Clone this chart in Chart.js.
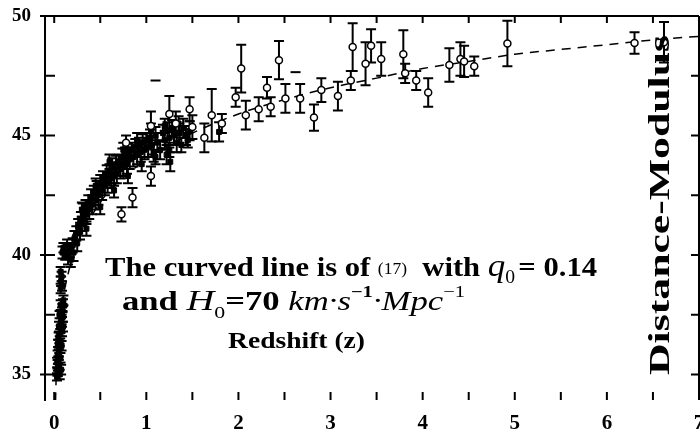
<!DOCTYPE html>
<html>
<head>
<meta charset="utf-8">
<script src="https://cdn.jsdelivr.net/npm/chart.js@4.4.0/dist/chart.umd.min.js"></script>
<style>
html, body { margin: 0; padding: 0; background: #fff; overflow: hidden; }
canvas { display: block; }
</style>
</head>
<body>
<canvas id="myChart" width="706" height="435"></canvas>
<script>
// tick labels
const xTicks = [0, 1, 2, 3, 4, 5, 6, 7];
const yTicks = [35, 40, 45, 50];

// dense low/mid redshift sample (filled marks)
const zDense = [0.03, 0.035, 0.04, 0.032, 0.045, 0.037, 0.05, 0.055, 0.042, 0.06, 0.048, 0.065, 0.07, 0.052, 0.075, 0.08, 0.058, 0.085, 0.09, 0.07, 0.095, 0.1,
  0.075, 0.068, 0.08, 0.085, 0.09, 0.095, 0.06, 0.05, 0.07, 0.075, 0.08, 0.07, 0.085, 0.09, 0.1, 0.12, 0.14,
  0.15, 0.17, 0.18, 0.2, 0.21, 0.22, 0.24, 0.25, 0.26, 0.28, 0.29, 0.3, 0.31, 0.33, 0.34, 0.35, 0.37, 0.38, 0.4, 0.41, 0.43, 0.45, 0.46, 0.48,
  0.5, 0.52, 0.53, 0.55, 0.57, 0.58, 0.6, 0.62, 0.63, 0.65, 0.67, 0.68, 0.7, 0.72, 0.74, 0.75, 0.77, 0.79, 0.8, 0.82, 0.84, 0.86, 0.88, 0.9,
  0.92, 0.94, 0.96, 0.98, 1.0, 1.02, 1.04, 1.06, 1.08, 1.1, 1.12, 1.15, 1.18, 1.2, 1.22, 1.23, 1.25, 1.26, 1.28, 1.3, 1.33, 1.36, 1.4, 1.43, 1.47, 1.79,
  0.3, 0.45, 0.6, 0.75, 0.9, 1.05, 1.2, 1.35, 0.35, 0.5, 0.65, 0.8, 0.95, 1.1, 1.25, 1.38, 1.45];
const muDense = [34.9, 35.1, 35.3, 35.5, 35.6, 35.8, 35.9, 36.1, 36.3, 36.4, 36.6, 36.7, 36.9, 37.0, 37.2, 37.3, 37.5, 37.6, 37.8, 37.9, 38.0, 38.1,
  35.2, 35.7, 36.2, 36.8, 37.4, 37.0, 35.0, 35.4, 38.6, 38.9, 39.1, 39.3, 38.7, 40.1, 40.3, 40.0, 40.4,
  39.9, 40.2, 39.8, 40.4, 40.1, 40.7, 40.9, 40.5, 41.2, 41.0, 41.5, 41.3, 41.8, 41.6, 42.0, 41.7, 42.2, 41.9, 42.4, 42.1, 42.6, 42.3, 42.8, 42.5,
  43.0, 42.7, 43.2, 42.9, 43.4, 43.0, 43.5, 43.2, 43.7, 43.3, 43.8, 43.4, 43.9, 43.6, 44.1, 43.7, 44.2, 43.8, 44.3, 44.0, 44.4, 44.1, 44.5, 44.2,
  44.6, 44.3, 44.7, 44.4, 44.8, 44.5, 44.9, 44.6, 44.3, 45.0, 44.7, 44.4, 45.1, 44.8, 44.2, 45.2, 44.9, 43.9, 45.3, 45.0, 44.7, 45.1, 45.3, 45.0, 45.2, 45.15,
  41.9, 42.9, 43.9, 44.4, 44.8, 45.2, 45.4, 45.5, 41.1, 42.0, 42.7, 43.3, 43.8, 44.1, 44.4, 44.6, 44.8];
const errDense = [0.15, 0.15, 0.15, 0.2, 0.15, 0.2, 0.15, 0.2, 0.15, 0.2, 0.15, 0.2, 0.15, 0.2, 0.15, 0.2, 0.15, 0.2, 0.15, 0.2, 0.15, 0.2,
  0.2, 0.2, 0.2, 0.2, 0.2, 0.2, 0.2, 0.2, 0.2, 0.2, 0.2, 0.2, 0.2, 0.25, 0.2, 0.2, 0.25,
  0.3, 0.3, 0.3, 0.3, 0.35, 0.3, 0.3, 0.35, 0.3, 0.35, 0.3, 0.3, 0.35, 0.3, 0.3, 0.4, 0.3, 0.4, 0.35, 0.4, 0.3, 0.4, 0.3, 0.4,
  0.35, 0.4, 0.3, 0.4, 0.35, 0.4, 0.3, 0.4, 0.35, 0.4, 0.35, 0.4, 0.3, 0.4, 0.35, 0.4, 0.3, 0.4, 0.35, 0.4, 0.3, 0.4, 0.35, 0.4,
  0.3, 0.4, 0.35, 0.4, 0.3, 0.4, 0.35, 0.4, 0.4, 0.35, 0.4, 0.4, 0.35, 0.4, 0.4, 0.35, 0.4, 0.4, 0.35, 0.4, 0.4, 0.4, 0.4, 0.4, 0.4, 0.4,
  0.3, 0.3, 0.3, 0.3, 0.3, 0.3, 0.3, 0.3, 0.3, 0.3, 0.3, 0.3, 0.3, 0.3, 0.3, 0.3, 0.3];

// individual points with error bars (open circles)
const zOpen = [0.73, 0.78, 0.85, 1.05, 1.05, 1.25, 1.32, 1.47, 1.5, 1.63, 1.71, 1.82, 1.97, 2.03, 2.08, 2.22, 2.31, 2.35, 2.44, 2.51, 2.67,
  2.82, 2.9, 3.08, 3.22, 3.24, 3.38, 3.44, 3.55, 3.79, 3.81, 3.93, 4.06, 4.29, 4.41, 4.45, 4.56, 4.92, 6.3, 6.62];
const muOpen = [41.7, 44.7, 42.4, 43.3, 45.4, 45.9, 45.5, 46.1, 45.35, 44.9, 45.85, 45.5, 46.6, 47.8, 45.85, 46.1, 47.0, 46.2, 48.15, 46.55, 46.55,
  45.75, 46.9, 46.65, 47.3, 48.7, 48.0, 48.75, 48.2, 48.4, 47.6, 47.3, 46.8, 47.95, 48.2, 48.1, 47.9, 48.85, 48.87, 48.9];
const errOpen = [0.3, 0.3, 0.4, 0.4, 0.6, 0.75, 0.5, 0.5, 0.5, 0.6, 1.1, 0.4, 0.4, 1.0, 0.6, 0.5, 0.45, 0.4, 0.8, 0.6, 0.6,
  0.55, 0.5, 0.6, 0.4, 1.0, 0.9, 0.7, 0.7, 1.0, 0.4, 0.4, 0.6, 0.7, 0.7, 0.65, 0.4, 0.95, 0.45, 0.85];

// stray caps without a visible mark
const zCap = [1.1, 2.62];
const muCap = [47.3, 47.65];

// model curve, q0 = 0.14, H0 = 70
const zCurve = [0.01, 0.02, 0.03, 0.05, 0.07, 0.1, 0.15, 0.2, 0.3, 0.4, 0.5, 0.6, 0.8, 1.0, 1.2, 1.5, 2.0, 2.5, 3.0, 3.5, 4.0, 4.5, 5.0, 5.5, 6.0, 6.5, 7.0];
const muCurve = [33.2, 34.7, 35.6, 36.7, 37.5, 38.3, 39.2, 39.9, 40.9, 41.6, 42.2, 42.7, 43.4, 44.0, 44.5, 45.1, 45.9, 46.5, 47.0, 47.4, 47.8, 48.1, 48.4, 48.6, 48.8, 49.0, 49.15];

const pts = (xs, ys) => xs.map((x, i) => ({ x: x, y: ys[i] }));
const serif = '"Liberation Serif", "Times New Roman", serif';

// error bars under the marks
const errorBars = {
    id: 'errorBars',
    beforeDatasetsDraw(chart) {
        const ctx = chart.ctx, sx = chart.scales.x, sy = chart.scales.y, a = chart.chartArea;
        ctx.save();
        ctx.beginPath();
        ctx.rect(a.left, a.top, a.right - a.left, a.bottom - a.top);
        ctx.clip();
        ctx.strokeStyle = '#000';
        chart.data.datasets.forEach(ds => {
            if (!ds.err) return;
            ctx.lineWidth = ds.errWidth;
            ds.data.forEach((p, i) => {
                const px = sx.getPixelForValue(p.x);
                const t = sy.getPixelForValue(p.y + ds.err[i]);
                const b = sy.getPixelForValue(p.y - ds.err[i]);
                ctx.beginPath();
                ctx.moveTo(px, t); ctx.lineTo(px, b);
                ctx.moveTo(px - ds.cap, t); ctx.lineTo(px + ds.cap, t);
                ctx.moveTo(px - ds.cap, b); ctx.lineTo(px + ds.cap, b);
                ctx.stroke();
            });
        });
        ctx.restore();
    }
};

// draws mixed-font text, stretched to a given width
function drawRich(ctx, x, y, width, parts) {
    let total = 0;
    parts.forEach(p => { ctx.font = p.f; total += ctx.measureText(p.t).width + (p.gap || 0); });
    ctx.save();
    ctx.translate(x, y);
    ctx.scale(width / total, 1);
    let cx = 0;
    parts.forEach(p => {
        ctx.font = p.f;
        ctx.fillText(p.t, cx, p.dy || 0);
        cx += ctx.measureText(p.t).width + (p.gap || 0);
    });
    ctx.restore();
}

// frame, inward ticks and the text inside the plot
const frame = {
    id: 'frame',
    afterDraw(chart) {
        const ctx = chart.ctx, sx = chart.scales.x, sy = chart.scales.y, a = chart.chartArea;
        ctx.save();
        ctx.strokeStyle = '#000';
        ctx.fillStyle = '#000';
        ctx.lineWidth = 2;
        ctx.beginPath();
        ctx.moveTo(a.left - 1, a.top); ctx.lineTo(a.right, a.top);
        ctx.moveTo(a.right, a.top); ctx.lineTo(a.right, a.bottom);
        ctx.stroke();
        // x ticks every 0.5
        for (let v = 0; v <= 7; v += 0.5) {
            const px = sx.getPixelForValue(v);
            ctx.beginPath();
            ctx.moveTo(px, a.top); ctx.lineTo(px, a.top + 7);
            ctx.moveTo(px, a.bottom - 8); ctx.lineTo(px, a.bottom);
            ctx.stroke();
        }
        // y ticks every 2.5
        for (let v = 35; v <= 50; v += 2.5) {
            const py = sy.getPixelForValue(v);
            ctx.beginPath();
            ctx.moveTo(a.left - (v % 5 === 0 ? 5 : 0), py); ctx.lineTo(a.left + 10, py);
            ctx.moveTo(a.right - 8, py); ctx.lineTo(a.right, py);
            ctx.stroke();
        }
        ctx.textBaseline = 'alphabetic';
        ctx.textAlign = 'left';
        drawRich(ctx, 105, 276, 492, [
            { t: 'The curved line is of ', f: 'bold 28px ' + serif },
            { t: '(17)', f: '16px ' + serif, dy: -2 },
            { t: '  with ', f: 'bold 28px ' + serif },
            { t: 'q', f: 'italic 32px ' + serif },
            { t: '0', f: '18px ' + serif, dy: 7, gap: 3 },
            { t: '= 0.14', f: 'bold 28px ' + serif }
        ]);
        drawRich(ctx, 122, 310, 343, [
            { t: 'and ', f: 'bold 27px ' + serif },
            { t: 'H', f: 'italic 30px ' + serif },
            { t: '0', f: '17px ' + serif, dy: 8 },
            { t: '=70 ', f: 'bold 27px ' + serif },
            { t: 'km\u00b7s', f: 'italic 27px ' + serif },
            { t: '\u22121', f: 'bold 16px ' + serif, dy: -13 },
            { t: '\u00b7Mpc', f: 'italic 27px ' + serif },
            { t: '\u22121', f: '16px ' + serif, dy: -13 }
        ]);
        drawRich(ctx, 228, 348, 137, [
            { t: 'Redshift (z)', f: 'bold 23px ' + serif }
        ]);
        // rotated y title
        ctx.translate(661, 205);
        ctx.rotate(-Math.PI / 2);
        ctx.font = 'bold 30px ' + serif;
        const w = ctx.measureText('Distance-Modulus').width;
        ctx.scale(340 / w, 1);
        ctx.textAlign = 'center';
        ctx.textBaseline = 'middle';
        ctx.fillText('Distance-Modulus', 0, 0);
        ctx.restore();
    }
};

var ctx = document.getElementById('myChart').getContext('2d');
var chart = new Chart(ctx, {
    type: 'scatter',
    data: {
        datasets: [{
            label: 'curve',
            data: pts(zCurve, muCurve),
            showLine: true,
            pointRadius: 0,
            borderColor: '#000',
            borderWidth: 1.5,
            borderDash: [9, 7],
            cubicInterpolationMode: 'monotone',
            order: 3
        }, {
            label: 'dense',
            data: pts(zDense, muDense),
            err: errDense, errWidth: 2, cap: 5,
            pointStyle: 'rect',
            pointRadius: 3.5,
            backgroundColor: '#000',
            borderColor: '#000',
            borderWidth: 1,
            order: 1
        }, {
            label: 'open',
            data: pts(zOpen, muOpen),
            err: errOpen, errWidth: 2, cap: 5,
            pointStyle: 'circle',
            pointRadius: 3.5,
            backgroundColor: '#fff',
            borderColor: '#000',
            borderWidth: 1.5,
            order: 0
        }, {
            label: 'caps',
            data: pts(zCap, muCap),
            pointStyle: 'line',
            pointRadius: 5,
            borderColor: '#000',
            borderWidth: 2,
            order: 2
        }]
    },
    options: {
        responsive: false,
        animation: false,
        layout: { padding: { top: 16, right: 3, left: 0, bottom: 0 } },
        plugins: { legend: { display: false }, tooltip: { enabled: false } },
        scales: {
            x: {
                type: 'linear',
                min: -0.1,
                max: 7,
                afterBuildTicks: s => { s.ticks = xTicks.map(v => ({ value: v })); },
                afterFit: s => { s.height = 35; s.paddingLeft = 0; s.paddingRight = 0; },
                grid: { display: false },
                border: { display: false },
                ticks: { color: '#000', padding: 3, maxRotation: 0, font: { family: serif, size: 21, weight: 'bold' } }
            },
            y: {
                min: 33.93,
                max: 50,
                afterBuildTicks: s => { s.ticks = yTicks.map(v => ({ value: v })); },
                afterFit: s => { s.width = 45; s.paddingTop = 0; s.paddingBottom = 0; },
                grid: { display: false },
                border: { display: true, color: '#000', width: 2 },
                ticks: { color: '#000', padding: 6, font: { family: serif, size: 19, weight: 'bold' } }
            }
        }
    },
    plugins: [errorBars, frame]
});
</script>
</body>
</html>
